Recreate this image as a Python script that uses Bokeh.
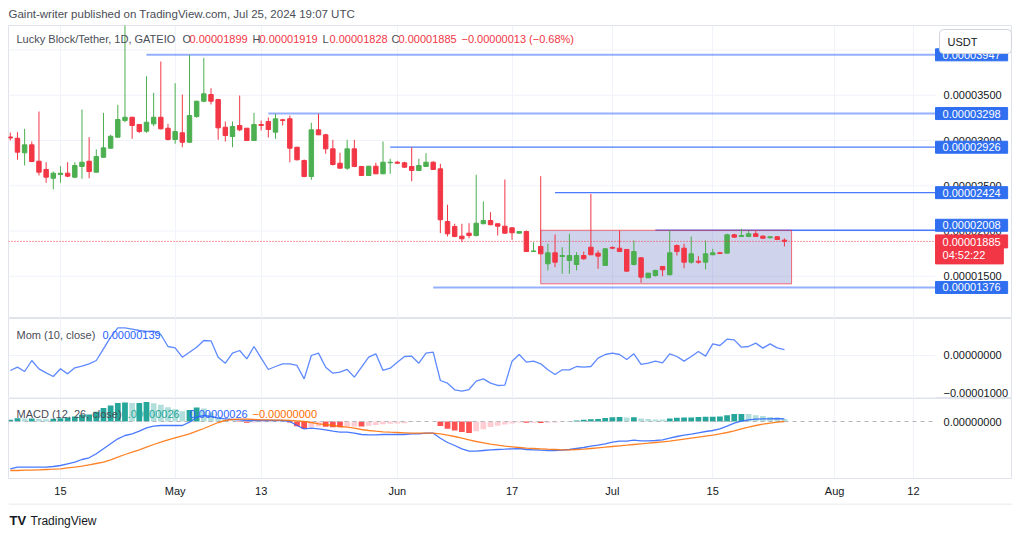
import numpy as np
import pandas as pd
from bokeh.plotting import figure
from bokeh.layouts import column
from bokeh.models import (ColumnDataSource, Range1d, LinearAxis, FixedTicker, Label, Span,
                          Grid)
from bokeh.core.properties import value
from bokeh.embed import file_html
from bokeh.resources import INLINE

# ---------------- data ----------------
SCALE = 1e-8  # prices below are in units of 0.00000001 USDT
dates = pd.date_range("2024-04-08", "2024-07-25", freq="D")

open_ = [3039, 3025, 2864, 2952, 2771, 2680, 2583, 2624, 2639, 2595,
         2713, 2771, 2650, 2815, 2915, 3037, 3221, 3257, 3177, 3103,
         3184, 3257, 3136, 3011, 3085, 2981, 3265, 3434, 3508, 3453,
         3147, 3044, 3166, 3136, 3000, 3177, 3210, 3092, 3229, 3240,
         2926, 2779, 2602, 3118, 3063, 2908, 2749, 2694, 2908, 2713,
         2613, 2716, 2632, 2754, 2760, 2754, 2713, 2669, 2713, 2760,
         2687, 2105, 2050, 1943, 1976, 1950, 2080, 2116, 2080, 2053,
         2035, 1976, 1994, 1773, 1829, 1638, 1759, 1718, 1674, 1630,
         1729, 1821, 1755, 1619, 1818, 1810, 1796, 1630, 1704, 1483,
         1508, 1608, 1516, 1840, 1810, 1655, 1666, 1655, 1737, 1759,
         1755, 1958, 1939, 1939, 1969, 1943, 1925, 1936, 1899]
high = [3088, 3092, 3129, 2989, 3320, 2760, 2657, 2716, 2760, 2760,
        3343, 3037, 2901, 3306, 3063, 3394, 4300, 3262, 3180, 3710,
        3527, 3873, 3184, 3633, 3508, 3947, 3440, 3914, 3578, 3460,
        3210, 3210, 3497, 3140, 3306, 3221, 3254, 3298, 3240, 3276,
        2930, 2790, 3196, 3295, 3074, 3008, 2864, 3008, 3008, 2718,
        2720, 2754, 2989, 2798, 2775, 2765, 2926, 2798, 2860, 2771,
        2743, 2290, 2080, 2080, 2086, 2621, 2326, 2208, 2082, 2569,
        2042, 1997, 2006, 1876, 2606, 1859, 1961, 1821, 1969, 1766,
        1773, 2410, 1785, 1810, 1830, 2006, 1800, 1895, 1708, 1537,
        1571, 1612, 2006, 1851, 1859, 1939, 1722, 1895, 1803, 1770,
        1969, 1969, 2024, 2000, 2008, 1950, 1940, 1945, 1919]
low = [3000, 2787, 2724, 2760, 2613, 2533, 2459, 2533, 2595, 2583,
       2577, 2583, 2645, 2809, 2908, 3030, 3202, 3019, 3085, 3085,
       3158, 3122, 3000, 2964, 2926, 2975, 3251, 3423, 3398, 3008,
       2989, 2926, 3103, 2995, 2995, 3111, 3033, 3019, 3166, 2760,
       2780, 2595, 2566, 3060, 2853, 2724, 2690, 2676, 2705, 2608,
       2608, 2628, 2628, 2632, 2740, 2700, 2550, 2665, 2708, 2675,
       1976, 1939, 1932, 1876, 1920, 1939, 2075, 2065, 1950, 1972,
       1903, 1972, 1770, 1770, 1745, 1564, 1600, 1527, 1527, 1564,
       1682, 1733, 1582, 1615, 1800, 1770, 1553, 1619, 1428, 1480,
       1496, 1500, 1512, 1729, 1589, 1638, 1638, 1575, 1733, 1745,
       1750, 1928, 1935, 1935, 1935, 1915, 1920, 1900, 1828]
close = [3028, 2871, 2952, 2768, 2650, 2595, 2639, 2639, 2606, 2724,
         2760, 2657, 2823, 2919, 3047, 3232, 3257, 3166, 3099, 3202,
         3257, 3129, 3011, 3099, 2981, 3276, 3434, 3516, 3434, 3140,
         3055, 3155, 3118, 3000, 3177, 3166, 3122, 3240, 3221, 2915,
         2787, 2602, 3118, 3063, 2908, 2735, 2694, 2908, 2713, 2613,
         2716, 2632, 2760, 2760, 2749, 2705, 2669, 2724, 2760, 2680,
         2124, 1969, 1939, 1914, 1950, 2086, 2116, 2069, 2053, 1976,
         1980, 1994, 1773, 1780, 1748, 1759, 1655, 1729, 1729, 1729,
         1693, 1737, 1722, 1803, 1810, 1773, 1556, 1773, 1490, 1534,
         1564, 1571, 1759, 1773, 1655, 1748, 1655, 1748, 1759, 1751,
         1958, 1932, 1950, 1969, 1939, 1920, 1936, 1906, 1885]

MSCALE = 1e-6  # indicator values below are in units of 0.000001
mom = [-3.57, -2.78, -3.81, -1.19, -3.17, -4.13, -5.00, -3.17, -4.37, -2.94,
       -2.54, -1.98, -1.19, 1.59, 4.37, 6.59, 6.59, 6.27, 5.95, 5.71,
       5.79, 5.00, 2.14, 1.83, -0.40, 0.79, 1.98, 3.57, 3.49, -0.40,
       -1.83, 0.56, 1.19, -0.79, 2.14, -0.63, -3.33, -2.62, -1.98, -1.98,
       -2.38, -5.56, 0.00, 0.56, -2.78, -4.21, -3.97, -3.33, -5.16, -2.78,
       -0.40, 0.40, -3.57, -3.02, -1.59, -0.24, -0.16, -1.83, 0.56, 0.79,
       -5.95, -6.59, -8.17, -8.49, -8.10, -6.11, -5.56, -6.59, -7.14, -7.06,
       -1.35, 0.24, -1.59, -1.35, -1.98, -3.41, -4.52, -3.41, -3.41, -2.62,
       -2.78, -2.62, -0.63, 0.24, 0.56, 0.24, -0.95, 0.40, -2.14, -1.83,
       -1.35, -1.75, 0.40, -0.24, -1.35, -0.24, 0.95, -0.16, 2.78, 2.38,
       3.89, 3.73, 1.98, 2.14, 2.94, 1.75, 2.78, 1.83, 1.39]
macd = [-4.73, -4.57, -4.57, -4.57, -4.57, -4.57, -4.50, -4.40, -4.23, -4.07,
        -3.80, -3.63, -3.23, -2.73, -2.23, -1.73, -1.40, -1.23, -0.97, -0.63,
        -0.47, -0.40, -0.40, -0.40, -0.40, -0.07, 0.43, 0.60, 0.50, 0.33,
        0.27, 0.20, 0.17, 0.10, 0.10, 0.10, 0.10, 0.10, 0.10, 0.00,
        -0.40, -0.73, -0.67, -0.73, -0.83, -0.97, -1.07, -1.07, -1.17, -1.30,
        -1.33, -1.33, -1.30, -1.30, -1.30, -1.30, -1.23, -1.23, -1.17, -1.17,
        -1.67, -2.10, -2.40, -2.73, -2.97, -2.97, -2.90, -2.83, -2.80, -2.77,
        -2.73, -2.70, -2.80, -2.83, -2.87, -2.90, -2.90, -2.87, -2.80, -2.70,
        -2.60, -2.47, -2.37, -2.23, -2.07, -1.97, -1.97, -1.87, -1.93, -1.93,
        -1.90, -1.83, -1.67, -1.50, -1.37, -1.27, -1.13, -1.00, -0.90, -0.73,
        -0.47, -0.17, 0.03, 0.17, 0.23, 0.27, 0.27, 0.30, 0.26]
signal = [-4.90, -4.90, -4.87, -4.87, -4.83, -4.80, -4.77, -4.73, -4.63, -4.57,
          -4.47, -4.33, -4.20, -4.07, -3.83, -3.57, -3.30, -3.07, -2.83, -2.57,
          -2.30, -2.07, -1.83, -1.63, -1.43, -1.23, -0.97, -0.70, -0.40, -0.10,
          0.10, 0.20, 0.23, 0.23, 0.20, 0.17, 0.17, 0.13, 0.13, 0.10,
          0.07, 0.00, -0.10, -0.23, -0.30, -0.40, -0.50, -0.57, -0.67, -0.80,
          -0.90, -0.97, -1.03, -1.07, -1.10, -1.13, -1.17, -1.17, -1.17, -1.17,
          -1.23, -1.37, -1.50, -1.67, -1.83, -2.00, -2.13, -2.27, -2.37, -2.47,
          -2.53, -2.60, -2.67, -2.70, -2.73, -2.77, -2.80, -2.83, -2.83, -2.80,
          -2.77, -2.70, -2.63, -2.57, -2.50, -2.43, -2.37, -2.30, -2.23, -2.17,
          -2.10, -2.03, -1.97, -1.87, -1.77, -1.67, -1.57, -1.47, -1.37, -1.23,
          -1.10, -0.93, -0.73, -0.57, -0.40, -0.27, -0.17, -0.07, 0.00]

tick_dates = ["2024-04-15", "2024-05-01", "2024-05-13", "2024-06-01", "2024-06-17",
              "2024-07-01", "2024-07-15", "2024-08-01", "2024-08-12"]
tick_labels = ["15", "May", "13", "Jun", "17", "Jul", "15", "Aug", "12"]

price_ticks = [1500, 2000, 2500, 3000, 3500, 4000]
price_tick_labels = ["0.00001500", "0.00002000", "0.00002500", "0.00003000", "0.00003500", "0.00004000"]
mom_ticks = [0.0, -10.0]
mom_tick_labels = ["0.00000000", "\u22120.00001000"]
macd_ticks = [0.0]
macd_tick_labels = ["0.00000000"]

level_prices = [3947, 3298, 2926, 2424, 2008, 1376]
level_labels = ["0.00003947", "0.00003298", "0.00002926", "0.00002424", "0.00002008", "0.00001376"]
level_start = ["2024-04-27", "2024-05-14", "2024-05-31", "2024-06-23", "2024-07-07", "2024-06-06"]

box_dates = ["2024-06-21", "2024-07-26"]
box_prices = [1416, 2008]

last_price = 1885
last_price_label = "0.00001885"
countdown = "04:52:22"

HEADER = "Gaint-writer published on TradingView.com, Jul 25, 2024 19:07 UTC"
SYMBOL = "Lucky Block/Tether, 1D, GATEIO"
ohlc_names = ["O", "H", "L", "C"]
ohlc_values = ["0.00001899", "0.00001919", "0.00001828", "0.00001885"]
change_text = "\u22120.00000013 (\u22120.68%)"
mom_title, mom_value = "Mom (10, close)", "0.00000139"
macd_title = "MACD (12, 26, close)"
macd_values = ["0.00000026", "0.00000026", "\u22120.00000000"]
currency = "USDT"
brand = "TradingView"

# ---------------- derived ----------------
base = pd.Timestamp("2024-04-15")
def dnum(d):
    return float((pd.Timestamp(d) - base).days)

x = np.array([(d - base).days for d in dates], dtype=float)
o = np.array(open_) * SCALE
h = np.array(high) * SCALE
l = np.array(low) * SCALE
c = np.array(close) * SCALE
tick_x = [dnum(d) for d in tick_dates]

FONT = "Liberation Sans"
TXT = "#131722"
LEG = "#4a4d57"
GRID = "#f0f3fa"
UP = "#4caf50"
DOWN = "#f23645"
BLUE = "#2962ff"
TAG = "#2f6ff0"

FW = 1004                     # frame covers chart + price scale
xr = Range1d(-7.25, 132.82)
XEND = 122.08                 # right edge of the chart area (start of price scale)


def pane(frame_h, y0, y1, yticks, ylabels, hgrid=True, label_dy=None):
    p = figure(frame_width=FW, frame_height=frame_h, x_range=xr, y_range=Range1d(y0, y1),
               x_axis_location=None, y_axis_location=None, output_backend="svg",
               toolbar_location=None, min_border_left=8, min_border_right=0,
               min_border_top=0, min_border_bottom=0,
               outline_line_color="#e0e3eb", background_fill_color="white",
               border_fill_color="white")
    p.center = [r for r in p.center if not isinstance(r, Grid)]
    p.add_layout(Grid(dimension=0, ticker=FixedTicker(ticks=tick_x), grid_line_color=GRID))
    if hgrid:
        p.segment(x0=xr.start, x1=XEND, y0=yticks, y1=yticks, line_color=GRID,
                  line_width=1, level="underlay")
    p.text(x=[XEND] * len(yticks), y=yticks, text=ylabels, x_offset=8,
           y_offset=label_dy or [0] * len(yticks),
           text_font=value(FONT), text_font_size="11px", text_color=TXT,
           text_baseline="middle", text_align="left")
    return p


def text(p, xs, y, t, color=LEG, size="11px", **kw):
    p.add_layout(Label(x=xs, y=y, x_units="screen", y_units="data", text=t, text_color=color,
                       text_font=FONT, text_font_size=size, text_baseline="middle",
                       text_align="left", **kw))


def tag(p, y, t, bg=TAG, fg="white", yoff=0, pad=None):
    pad = pad or dict(left=7, right=7, top=2, bottom=2)
    p.add_layout(Label(x=XEND, y=y, x_units="data", y_units="data", text=t, text_color=fg,
                       text_font=FONT, text_font_size="11px", text_baseline="middle",
                       text_align="left", background_fill_color=bg, border_line_color=bg,
                       padding=pad, y_offset=yoff))


# ---------------- main pane ----------------
p1 = pane(293, 1033 * SCALE, 4271 * SCALE, [t * SCALE for t in price_ticks], price_tick_labels)
p1.title.text = HEADER
p1.title.align = "left"
p1.title.offset = 0
p1.title.text_font = FONT
p1.title.text_font_size = "11.5px"
p1.title.text_font_style = "normal"
p1.title.text_color = "#4a4d57"
p1.title.standoff = 11

for lv, st in zip(level_prices, level_start):
    strong = lv in (3947, 3298, 1376)
    p1.segment(x0=dnum(st), y0=lv * SCALE, x1=XEND, y1=lv * SCALE, line_color=BLUE,
               line_width=2 if strong else 1.3, line_alpha=0.5 if strong else 0.85)

p1.quad(left=dnum(box_dates[0]), right=dnum(box_dates[1]), bottom=box_prices[0] * SCALE,
        top=box_prices[1] * SCALE, fill_color="#3f51b5", fill_alpha=0.25,
        line_color=DOWN, line_alpha=0.7, line_width=1)

colors = [UP if cc >= oo else DOWN for oo, cc in zip(o, c)]
src = ColumnDataSource(dict(x=x, hi=h, lo=l, top=np.maximum(o, c), bot=np.minimum(o, c), col=colors))
p1.segment(x0="x", y0="hi", x1="x", y1="lo", line_color="col", line_width=1, source=src)
p1.vbar(x="x", width=0.62, top="top", bottom="bot", fill_color="col", line_color="col", source=src)

p1.segment(x0=xr.start, x1=XEND, y0=last_price * SCALE, y1=last_price * SCALE,
           line_color=DOWN, line_dash="1 2", line_width=1)

ly = 4127 * SCALE
text(p1, 8, ly, SYMBOL, LEG)
for name, val, xn in zip(ohlc_names, ohlc_values, [174, 244, 314, 383]):
    text(p1, xn, ly, name, LEG)
    text(p1, xn + 7, ly, val, DOWN)
text(p1, 453, ly, change_text, DOWN)

for lv, lab in zip(level_prices, level_labels):
    tag(p1, lv * SCALE, lab, yoff=5 if lv == 2008 else 0)
tag(p1, last_price * SCALE, last_price_label, bg=DOWN, pad=dict(left=7, right=7, top=3, bottom=2))
tag(p1, last_price * SCALE, countdown, bg=DOWN, yoff=-14,
    pad=dict(left=7, right=18, top=2, bottom=3))
p1.add_layout(Label(x=XEND, y=4094 * SCALE, x_units="data", y_units="data", x_offset=4,
                    text=currency, text_color=TXT, text_font=FONT, text_font_size="11px",
                    text_baseline="middle", text_align="left", background_fill_color="white",
                    border_line_color="#d1d4dc", border_radius=4,
                    padding=dict(left=8, right=34, top=6, bottom=6)))

# ---------------- momentum pane ----------------
p2 = pane(80, -10.24 * MSCALE, 8.81 * MSCALE, [t * MSCALE for t in mom_ticks], mom_tick_labels,
          label_dy=[0, -4])
p2.line(x, np.array(mom) * MSCALE, line_color=BLUE, line_alpha=0.75, line_width=1.3)
text(p2, 8, 5.0 * MSCALE, mom_title, LEG)
text(p2, 94, 5.0 * MSCALE, mom_value, BLUE)

# ---------------- MACD pane ----------------
p3 = pane(80, -5.7 * MSCALE, 2.3 * MSCALE, [t * MSCALE for t in macd_ticks], macd_tick_labels,
          hgrid=False)
p3.min_border_bottom = 25
hist = np.array(macd) - np.array(signal)
hcol = []
for i, v in enumerate(hist):
    prev = hist[i - 1] if i > 0 else v
    if v >= 0:
        hcol.append("#26a69a" if v >= prev else "#b2dfdb")
    else:
        hcol.append("#ff5252" if v < prev else "#ffcdd2")
hsrc = ColumnDataSource(dict(x=x, top=hist * MSCALE, col=hcol))
p3.vbar(x="x", width=0.8, top="top", bottom=0, fill_color="col", line_color=None, source=hsrc)
p3.segment(x0=xr.start, x1=XEND, y0=0, y1=0, line_color="#b2b5be", line_dash="4 4", line_width=1)
p3.line(x, np.array(macd) * MSCALE, line_color=BLUE, line_width=1.3, line_alpha=0.85)
p3.line(x, np.array(signal) * MSCALE, line_color="#ff6d00", line_width=1.3, line_alpha=0.85)
my = 0.8 * MSCALE
text(p3, 8, my, macd_title, LEG)
text(p3, 113, my, macd_values[0], "#26a69a")
text(p3, 181, my, macd_values[1], BLUE)
text(p3, 244, my, macd_values[2], "#ff6d00")

xax = LinearAxis(ticker=FixedTicker(ticks=tick_x), axis_line_color=None,
                 major_tick_line_color=None, minor_tick_line_color=None,
                 major_tick_out=0, major_tick_in=0,
                 major_label_standoff=6, major_label_text_font=FONT,
                 major_label_text_font_size="11px", major_label_text_color=TXT,
                 major_label_overrides=dict(zip(tick_x, tick_labels)))
p3.add_layout(xax, "below")

# ---------------- footer ----------------
p4 = figure(frame_width=FW, frame_height=25, x_range=Range1d(0, FW), y_range=Range1d(0, 25),
            x_axis_location=None, y_axis_location=None, output_backend="svg",
            toolbar_location=None, min_border_left=8, min_border_right=0,
            min_border_top=0, min_border_bottom=0, outline_line_color=None)
p4.center = [r for r in p4.center if not isinstance(r, Grid)]
p4.add_layout(Span(location=24.5, dimension="width", line_color="#e0e3eb", line_width=1))
p4.text(x=[1], y=[8], text=["TV"], text_font=value(FONT), text_font_size="13px",
        text_font_style="bold", text_color=TXT, text_baseline="middle")
p4.text(x=[22], y=[8], text=[brand], text_font=value(FONT), text_font_size="12px",
        text_color=TXT, text_baseline="middle")

layout = column(p1, p2, p3, p4, spacing=0)
open("out.html", "w").write(file_html(layout, INLINE))
